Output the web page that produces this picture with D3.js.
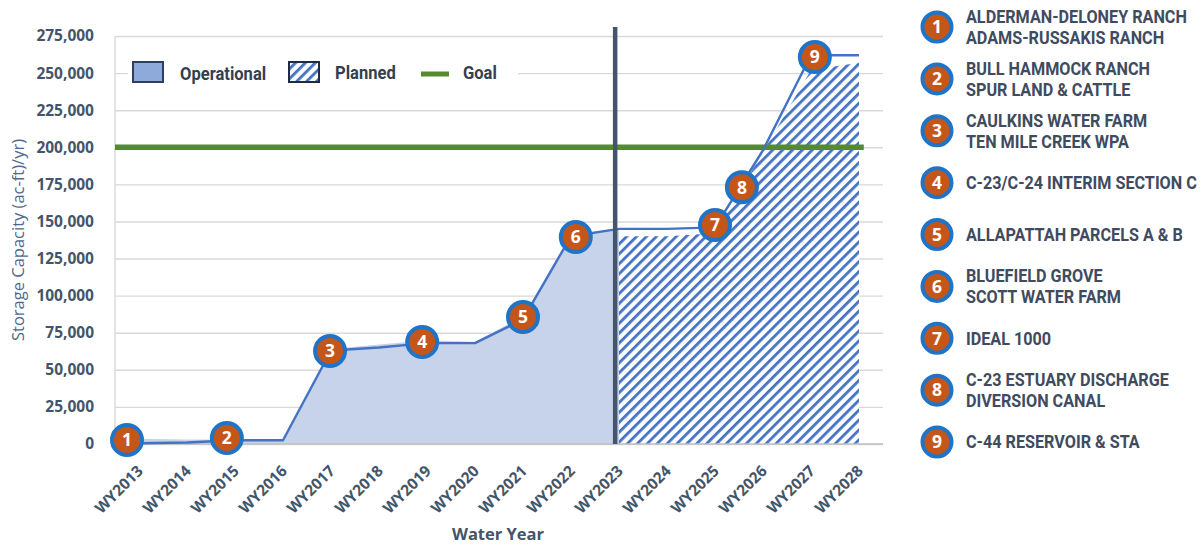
<!DOCTYPE html>
<html><head><meta charset="utf-8">
<script src="https://cdn.jsdelivr.net/npm/d3@7"></script>
<style>body{margin:0;background:#fff}svg{display:block}</style>
</head><body><svg id="c" width="1203" height="546"></svg>
<script>
// ---------- data ----------
const years = ["WY2013","WY2014","WY2015","WY2016","WY2017","WY2018","WY2019","WY2020",
               "WY2021","WY2022","WY2023","WY2024","WY2025","WY2026","WY2027","WY2028"];
const totalCapacity = [500, 1000, 2500, 2500, 63000, 65000, 68000, 68000,
                       84000, 140000, 145000, 145000, 146000, 198000, 262000, 262000];
const operationalYears = years.slice(0, 11);
const operationalArea = [3500, 3000, 3000, 3000, 64000, 67000, 70000, 69000, 86000, 141000, 145000];
const plannedYears = years.slice(10);
const plannedArea = [140000, 140000, 142000, 197000, 252000, 257000];
const goalValue = 200000;
const yTicks = [0,25000,50000,75000,100000,125000,150000,175000,200000,225000,250000,275000];
const dividerPos = 9.92;          // category index of the operational / planned divider
const dividerTop = 281000;
const markerIds = [1,2,3,4,5,6,7,8,9];
const markerPos = [-0.25, 1.83, 3.98, 5.9, 8.0, 9.1, 12.0, 12.56, 14.08];   // category index
const markerValues = [2700, 4000, 62700, 68700, 85600, 139500, 147600, 173000, 260800];
const projects = [
  ["ALDERMAN-DELONEY RANCH","ADAMS-RUSSAKIS RANCH"],
  ["BULL HAMMOCK RANCH","SPUR LAND & CATTLE"],
  ["CAULKINS WATER FARM","TEN MILE CREEK WPA"],
  ["C-23/C-24 INTERIM SECTION C"],
  ["ALLAPATTAH PARCELS A & B"],
  ["BLUEFIELD GROVE","SCOTT WATER FARM"],
  ["IDEAL 1000"],
  ["C-23 ESTUARY DISCHARGE","DIVERSION CANAL"],
  ["C-44 RESERVOIR & STA"]
];
const legendItems = ["Operational","Planned","Goal"];

// ---------- styles ----------
const C = {
  grid:"#d9d9d9", axis:"#bfbfbf", text:"#44546a", ylab:"#51688b",
  area:"#c7d3eb", line:"#4472c4", hatch:"#4472c4", goal:"#558b2f",
  divider:"#44546a", orange:"#c5561a", ring:"#1f74c8", legText:"#3f4b5e"
};
const FONT = "'Open Sans', 'DejaVu Sans', sans-serif";
const NARROW = "'Roboto', 'Liberation Sans', sans-serif";

const svg = d3.select("#c");
svg.append("rect").attr("width",1203).attr("height",546).attr("fill","#fff");

const defs = svg.append("defs");
const pat = defs.append("pattern").attr("id","hatch").attr("patternUnits","userSpaceOnUse")
  .attr("width",7).attr("height",7).attr("patternTransform","rotate(45)");
pat.append("rect").attr("width",7).attr("height",7).attr("fill","#fff");
pat.append("rect").attr("width",2.8).attr("height",7).attr("fill",C.hatch);

// ---------- scales ----------
const x = d3.scaleBand().domain(years).range([115, 883]);
const xc = d => x(d) + x.bandwidth()/2;
const xi = d3.scaleLinear().domain([0, years.length-1]).range([xc(years[0]), xc(years[years.length-1])]);
const y = d3.scaleLinear().domain([0, 275000]).range([444, 36]);

// ---------- grid + y axis ----------
const yAxis = svg.append("g").attr("transform","translate(115,0)")
  .call(d3.axisLeft(y).tickValues(yTicks).tickSize(-(883-115)).tickPadding(21)
        .tickFormat(d3.format(",")));
yAxis.select(".domain").remove();
yAxis.selectAll(".tick line").attr("stroke",C.grid).attr("stroke-width",1.4);
yAxis.selectAll(".tick text").attr("fill",C.text).attr("font-family",FONT)
  .attr("font-weight",700).attr("font-size",15.5);
svg.append("line").attr("x1",115).attr("x2",115).attr("y1",y(275000)).attr("y2",y(0))
  .attr("stroke",C.grid).attr("stroke-width",1.4);

// ---------- areas ----------
svg.append("path").datum(operationalArea)
  .attr("d", d3.area().x((d,i)=>xc(operationalYears[i])).y0(y(0)).y1(d=>y(d)))
  .attr("fill",C.area);
svg.append("path").datum(plannedArea)
  .attr("d", d3.area().x((d,i)=>xc(plannedYears[i])).y0(y(0)).y1(d=>y(d)))
  .attr("fill","url(#hatch)");

// bottom axis line
svg.append("line").attr("x1",115).attr("x2",883).attr("y1",y(0)).attr("y2",y(0))
  .attr("stroke",C.axis).attr("stroke-width",1.6);

// ---------- goal line ----------
svg.append("line").attr("x1",115).attr("x2",xi(15.1)).attr("y1",y(goalValue)).attr("y2",y(goalValue))
  .attr("stroke",C.goal).attr("stroke-width",5.5);

// ---------- total line ----------
svg.append("path").datum(totalCapacity)
  .attr("d", d3.line().x((d,i)=>xc(years[i])).y(d=>y(d)))
  .attr("fill","none").attr("stroke",C.line).attr("stroke-width",2.4).attr("stroke-linejoin","round");

// ---------- divider ----------
svg.append("line").attr("x1",xi(dividerPos)).attr("x2",xi(dividerPos))
  .attr("y1",y(dividerTop)).attr("y2",y(0)).attr("stroke",C.divider).attr("stroke-width",4.5);

// ---------- x axis ----------
const xAxis = svg.append("g").attr("transform",`translate(0,${y(0)})`)
  .call(d3.axisBottom(x).tickSize(0));
xAxis.select(".domain").remove();
xAxis.selectAll(".tick text").attr("x",0).attr("y",0).attr("dy",0)
  .attr("transform","translate(5,28) rotate(-45)").attr("text-anchor","end")
  .attr("fill",C.text).attr("font-family",FONT).attr("font-weight",700).attr("font-size",15.5);

// axis titles
svg.append("text").attr("x",498).attr("y",540).attr("text-anchor","middle")
  .attr("fill",C.text).attr("font-family",FONT).attr("font-weight",700).attr("font-size",16.5)
  .text("Water Year");
svg.append("text").attr("transform","translate(24,240) rotate(-90)").attr("text-anchor","middle")
  .attr("fill",C.ylab).attr("font-family",FONT).attr("font-size",16.5)
  .text("Storage Capacity (ac-ft)/yr)");

// ---------- inner legend ----------
const lg = svg.append("g");
lg.append("rect").attr("x",128).attr("y",47).attr("width",390).attr("height",55).attr("fill","#fff");
const legX = [133, 289, 421];
const legTextX = [180, 335, 463];
lg.append("rect").attr("x",legX[0]).attr("y",62).attr("width",30).attr("height",20)
  .attr("fill","#8eaadb").attr("stroke","#2f3f5f").attr("stroke-width",2);
lg.append("rect").attr("x",legX[1]).attr("y",62).attr("width",30).attr("height",20)
  .attr("fill","url(#hatch)").attr("stroke","#1f2a44").attr("stroke-width",2);
lg.append("line").attr("x1",legX[2]).attr("x2",legX[2]+28).attr("y1",74).attr("y2",74)
  .attr("stroke",C.goal).attr("stroke-width",5);
lg.selectAll("text.leg").data(legendItems).join("text").attr("class","leg")
  .attr("transform",(d,i)=>`translate(${legTextX[i]},${i===0 ? 80 : 79}) scale(0.92,1)`)
  .attr("fill","#333f50").attr("font-family",NARROW).attr("font-weight",700).attr("font-size",18)
  .text(d=>d);

// ---------- markers ----------
function badge(g, r){
  g.append("circle").attr("r",r).attr("fill",C.orange).attr("stroke",C.ring).attr("stroke-width",4);
  g.append("text").attr("text-anchor","middle").attr("dy","0.36em").attr("fill","#fff")
    .attr("font-family",FONT).attr("font-weight",700).attr("font-size",17.5).text(d=>d);
}
const mk = svg.selectAll("g.mk").data(markerIds).join("g").attr("class","mk")
  .attr("transform",(d,i)=>`translate(${xi(markerPos[i])},${y(markerValues[i])})`);
badge(mk, 15);

// ---------- project legend ----------
const py = d3.scalePoint().domain(markerIds).range([27, 442]);
const pg = svg.selectAll("g.proj").data(markerIds).join("g").attr("class","proj")
  .attr("transform",d=>`translate(937,${py(d)})`);
badge(pg, 14.5);
const nameGroups = [];
pg.each(function(d,i){
  const lines = projects[i];
  const g = d3.select(this).append("g").attr("class","names");
  lines.forEach((t,k)=>{
    const off = lines.length===1 ? 0 : (k===0 ? -10.5 : 10.5);
    g.append("text").attr("class","pname").attr("x",0).attr("y",off).attr("dy","0.36em")
      .attr("fill",C.legText).attr("font-family",NARROW).attr("font-weight",700)
      .attr("font-size",18).text(t);
  });
  nameGroups.push(g);
});
// condense the project names so the longest first line spans the same width as the original
const refLen = svg.select("text.pname").node().getComputedTextLength();
const sx = Math.min(1, 221 / refLen);
nameGroups.forEach(g => g.attr("transform",`translate(29,0) scale(${sx},1)`));
</script></body></html>
